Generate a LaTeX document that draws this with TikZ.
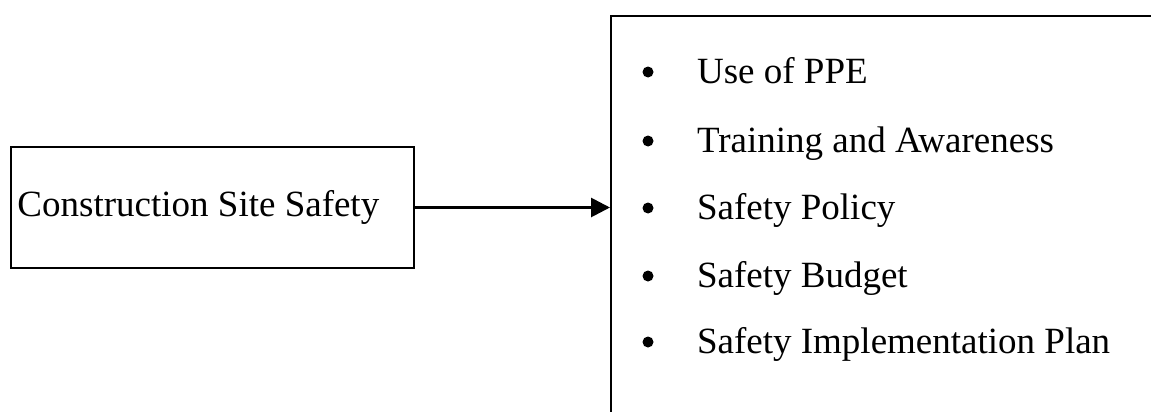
\documentclass[tikz,border=0pt]{standalone}
\usepackage{fontspec}
\setmainfont{Liberation Serif}
\usetikzlibrary{arrows.meta}
\tikzset{
    item/.style={anchor=base west, font=\fontsize{18.5}{22}\selectfont},
    dot/.style={circle, fill, inner sep=0pt, minimum size=5.5pt}
}
\begin{document}
\begin{tikzpicture}[x=0.5pt, y=-0.5pt]
        \useasboundingbox (0,0) rectangle (1151,412);
        \clip (0,0) rectangle (1151,412);
        % Nodes
        \node (site) [draw, line width=1pt, minimum width=201.5pt, minimum height=60.5pt, text width=195pt, align=flush left, inner xsep=3pt, font=\fontsize{18.5}{22}\selectfont] at (212.5,207.5) {Construction Site Safety};
        \node (list) [draw, line width=0.8pt, anchor=north west, minimum width=300pt, minimum height=230pt] at (610,15) {};
        \node (b1) [dot] at (648,72) {};
        \node (b2) [dot] at (648,141) {};
        \node (b3) [dot] at (648,208) {};
        \node (b4) [dot] at (648,276) {};
        \node (b5) [dot] at (648,342) {};
        \node (t1) [item] at (690,83) {Use of PPE};
        \node (t2) [item] at (690,152) {Training and Awareness};
        \node (t3) [item] at (690,219) {Safety Policy};
        \node (t4) [item] at (690,287) {Safety Budget};
        \node (t5) [item] at (690,353) {Safety Implementation Plan};
        
        % Edges
        \draw[-{Triangle[length=9.5pt, width=9.5pt]}, line width=1.4pt] (site.east) -- (site.east -| list.west);
    
    \end{tikzpicture}
\end{document}
